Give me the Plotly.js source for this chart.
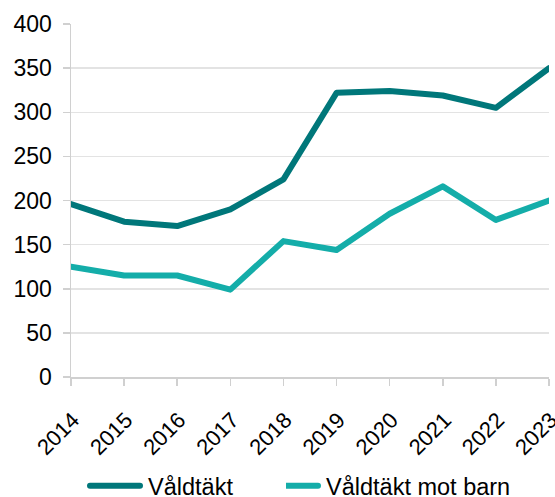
<!DOCTYPE html>
<html><head><meta charset="utf-8">
<script src="https://cdn.plot.ly/plotly-3.0.1.min.js"></script>
<style>html,body{margin:0;padding:0;background:#fff}#chart{width:555px;height:497px}
.scatterlayer path.js-line, .legendlines path{stroke-linecap:round;stroke-linejoin:round}</style>
</head><body><div id="chart"></div>
<script>
const years = ['2014','2015','2016','2017','2018','2019','2020','2021','2022','2023'];
const valdtakt = [196, 176, 171, 190, 224, 322, 324, 319, 305, 350];
const valdtaktBarn = [125, 115, 115, 99, 154, 144, 185, 216, 178, 200];
const seriesNames = ['Våldtäkt', 'Våldtäkt mot barn'];

const traces = [
  {x: years, y: valdtakt, name: seriesNames[0], type: 'scatter', mode: 'lines',
   line: {color: '#00777A', width: 6}, legend: 'legend'},
  {x: years, y: valdtaktBarn, name: seriesNames[1], type: 'scatter', mode: 'lines',
   line: {color: '#14ADA9', width: 6}, legend: 'legend2'}
];
const legBase = {orientation: 'h', xref: 'container', yref: 'container', xanchor: 'left',
                 y: 11/497, yanchor: 'middle', font: {size: 23.5}, bgcolor: 'rgba(0,0,0,0)'};
const layout = {
  width: 555, height: 497,
  margin: {l: 71, r: 6, t: 24, b: 120},
  paper_bgcolor: '#fff', plot_bgcolor: '#fff',
  font: {family: 'Liberation Sans, Arial, sans-serif', size: 23, color: '#000'},
  showlegend: true,
  legend: Object.assign({}, legBase, {x: 108/555}),
  legend2: Object.assign({}, legBase, {x: 286/555}),
  xaxis: {type: 'category', range: [0, 9], tickangle: -45, showgrid: false, automargin: false,
          showline: true, linecolor: '#d0d0d0', linewidth: 1.5,
          ticks: 'outside', ticklen: 7, tickcolor: '#d0d0d0', tickwidth: 1.5,
          tickfont: {size: 22}, ticklabelstandoff: 13, ticklabelshift: 2,
          zeroline: false, fixedrange: true},
  yaxis: {range: [0, 400], dtick: 50, showgrid: true, gridcolor: '#e3e3e3', gridwidth: 1.5,
          showline: true, linecolor: '#d0d0d0', linewidth: 1.5, automargin: false,
          ticks: 'outside', ticklen: 7, tickcolor: '#d0d0d0', tickwidth: 1.5,
          ticklabelstandoff: 6,
          zeroline: false, fixedrange: true}
};
Plotly.newPlot('chart', traces, layout, {displayModeBar: false, staticPlot: true}).then(gd => {
  gd.querySelectorAll('.legend .scrollbox, .legend').forEach(e => e.removeAttribute('clip-path'));
  gd.querySelectorAll('.legendlines path').forEach(p => {
    p.setAttribute('d', 'M-18,0h50');
    p.style.strokeWidth = '6px';
  });
});
</script></body></html>
